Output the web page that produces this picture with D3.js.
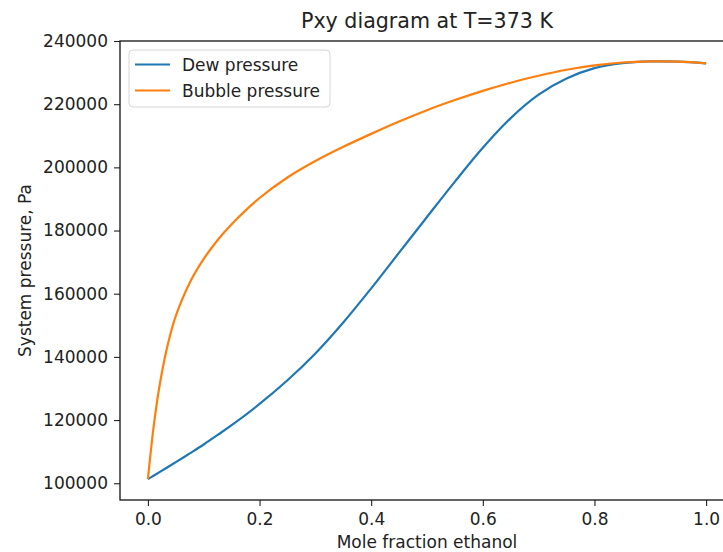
<!DOCTYPE html>
<html>
<head>
<meta charset="utf-8">
<script src="https://cdn.jsdelivr.net/npm/d3@7"></script>
<style>
  body { margin: 0; background: #fff; }
  svg { display: block; font-family: "DejaVu Sans", sans-serif; }
</style>
</head>
<body>
<svg id="chart" width="723" height="552"></svg>
<script>
// mole fraction grid (liquid / vapour composition)
var moleFrac = [0, 0.01, 0.02, 0.03, 0.04, 0.05, 0.075, 0.1, 0.125, 0.15, 0.2, 0.25, 0.3, 0.35, 0.4,
                0.45, 0.5, 0.55, 0.6, 0.65, 0.7, 0.75, 0.8, 0.85, 0.9, 0.95, 1.0];
var dewP = [101325, 102380, 103440, 104510, 105590, 106680, 109450, 112280, 115300, 118380,
            125100, 132600, 141100, 150900, 161700, 173000, 184300, 195500, 206200, 215600,
            223000, 228100, 231400, 233000, 233550, 233450, 232900];
var bubbleP = [101325, 117500, 130000, 139500, 147000, 153000, 163500, 171000, 177000, 182000,
               190300, 196800, 202000, 206500, 210600, 214500, 218100, 221300, 224200, 226800,
               229000, 230900, 232300, 233200, 233550, 233450, 232900];
var yTicks = [100000, 120000, 140000, 160000, 180000, 200000, 220000, 240000];
var xTicks = [0, 0.2, 0.4, 0.6, 0.8, 1.0];
var seriesNames = ["Dew pressure", "Bubble pressure"];
var seriesColors = ["#1f77b4", "#ff7f0e"];

var plotL = 120, plotR = 734, plotT = 41, plotB = 500;
var svg = d3.select('#chart');

var x = d3.scaleLinear().domain([-0.05, 1.05]).range([plotL, plotR]);
var y = d3.scaleLinear().domain([94700, 240000]).range([plotB, plotT]);

var line = d3.line()
    .x(d => x(d[0]))
    .y(d => y(d[1]))
    .curve(d3.curveCatmullRom.alpha(0.5));

[dewP, bubbleP].forEach(function(vals, i){
    svg.append('path')
       .datum(moleFrac.map((m, j) => [m, vals[j]]))
       .attr('fill', 'none')
       .attr('stroke', seriesColors[i])
       .attr('stroke-width', 2.2)
       .attr('d', line);
});

// axes
var xAxis = svg.append('g')
    .attr('transform', 'translate(0,' + plotB + ')')
    .call(d3.axisBottom(x).tickValues(xTicks).tickFormat(d3.format('.1f')).tickSizeOuter(0).tickSize(6).tickPadding(7));
var yAxis = svg.append('g')
    .attr('transform', 'translate(' + plotL + ',0)')
    .call(d3.axisLeft(y).tickValues(yTicks).tickFormat(d3.format('d')).tickSizeOuter(0).tickSize(6).tickPadding(6));
[xAxis, yAxis].forEach(function(ax){
    ax.select('.domain').remove();
    ax.selectAll('text').attr('font-size', 17).attr('fill', '#222').attr('font-family', '"DejaVu Sans", sans-serif');
    ax.selectAll('line').attr('stroke', '#222').attr('stroke-width', 1.1);
});

// frame
svg.append('rect')
   .attr('x', plotL).attr('y', plotT)
   .attr('width', plotR - plotL).attr('height', plotB - plotT)
   .attr('fill', 'none').attr('stroke', '#111').attr('stroke-width', 1.3);

// title and labels
svg.append('text')
   .attr('x', (plotL + plotR) / 2).attr('y', 28)
   .attr('text-anchor', 'middle').attr('font-size', 20.6).attr('fill', '#222')
   .text('Pxy diagram at T=373 K');
svg.append('text')
   .attr('x', (plotL + plotR) / 2).attr('y', 548)
   .attr('text-anchor', 'middle').attr('font-size', 17).attr('fill', '#222')
   .text('Mole fraction ethanol');
svg.append('text')
   .attr('transform', 'translate(31,' + (plotT + plotB) / 2 + ') rotate(-90)')
   .attr('text-anchor', 'middle').attr('font-size', 17).attr('fill', '#222')
   .text('System pressure, Pa');

// legend
var legend = svg.append('g').attr('transform', 'translate(129,50)');
legend.append('rect')
      .attr('width', 201).attr('height', 57).attr('rx', 4)
      .attr('fill', '#fff').attr('fill-opacity', 0.8)
      .attr('stroke', '#d6d6d6').attr('stroke-width', 1);
seriesNames.forEach(function(name, i){
    var g = legend.append('g').attr('transform', 'translate(0,' + (14.5 + i * 26) + ')');
    g.append('line').attr('x1', 6).attr('x2', 41)
     .attr('stroke', seriesColors[i]).attr('stroke-width', 2.2);
    g.append('text').attr('x', 53).attr('y', 6)
     .attr('font-size', 17).attr('fill', '#222').text(name);
});
</script>
</body>
</html>
